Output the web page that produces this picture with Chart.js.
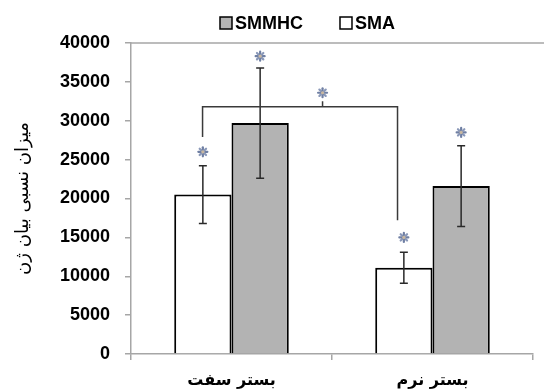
<!DOCTYPE html>
<html>
<head>
<meta charset="utf-8">
<script src="https://cdn.jsdelivr.net/npm/chart.js@4"></script>
<style>
  html, body { margin: 0; padding: 0; background: #fff; }
</style>
</head>
<body>
<canvas id="c" width="544" height="391"></canvas>
<script>
// ====== data ======
const categories = ['بستر سفت', 'بستر نرم'];
const smaValues = [20500, 11100];
const smaErrors = [3700, 2000];
const smmhcValues = [29700, 21600];
const smmhcErrors = [7100, 5200];
const yTicks = [0, 5000, 10000, 15000, 20000, 25000, 30000, 35000, 40000];

// significance marks above the bars
const smaStars = [26000, 15000];
const smmhcStars = [38300, 28500];
// bracket between the SMA bars: [category position, value]
const bracketLine = [[-0.144, 27900], [-0.144, 31800], [0.826, 31800], [0.826, 17200]];
const bracketTick = [[0.453, 31800], [0.453, 32500]];
const bracketStar = [0.453, 33600];

const AXIS = '#a6a6a6';

function drawStar(ctx, cx, cy){
  ctx.save();
  ctx.lineCap = 'round';
  for(let k = 0; k < 8; k++){
    const a = k * Math.PI / 4;
    ctx.strokeStyle = k % 2 ? '#8a98b8' : '#6f7fa3';
    ctx.lineWidth = 2.2;
    ctx.beginPath();
    ctx.moveTo(cx, cy);
    ctx.lineTo(cx + Math.cos(a) * 4.5, cy + Math.sin(a) * 4.5);
    ctx.stroke();
  }
  ctx.fillStyle = '#c9b8a0';
  ctx.beginPath(); ctx.arc(cx, cy, 1.6, 0, Math.PI * 2); ctx.fill();
  ctx.restore();
}

// error bars, stars, bracket, top border, legend
const marks = {
  id: 'marks',
  afterDatasetsDraw(chart){
    const {ctx, scales: {x, y}, chartArea} = chart;
    ctx.save();

    // top border line
    const yTop = y.getPixelForValue(yTicks[yTicks.length - 1]);
    ctx.strokeStyle = AXIS; ctx.lineWidth = 1.5;
    ctx.beginPath(); ctx.moveTo(chartArea.left, yTop); ctx.lineTo(chart.width, yTop); ctx.stroke();

    const sets = [[0, smaValues, smaErrors, smaStars], [1, smmhcValues, smmhcErrors, smmhcStars]];
    sets.forEach(([di, vals, errs, stars]) => {
      chart.getDatasetMeta(di).data.forEach((bar, i) => {
        const xp = bar.x;
        const t = y.getPixelForValue(vals[i] + errs[i]);
        const b = y.getPixelForValue(vals[i] - errs[i]);
        ctx.strokeStyle = '#2a2a2a'; ctx.lineWidth = 1.5;
        ctx.beginPath();
        ctx.moveTo(xp, t); ctx.lineTo(xp, b);
        ctx.moveTo(xp - 4, t); ctx.lineTo(xp + 4, t);
        ctx.moveTo(xp - 4, b); ctx.lineTo(xp + 4, b);
        ctx.stroke();
        drawStar(ctx, xp, y.getPixelForValue(stars[i]));
      });
    });

    // bracket
    ctx.strokeStyle = '#3a3a3a'; ctx.lineWidth = 1.5;
    ctx.beginPath();
    bracketLine.forEach(([cx, v], i) => {
      const px = x.getPixelForValue(cx), py = y.getPixelForValue(v);
      if(i === 0) ctx.moveTo(px, py); else ctx.lineTo(px, py);
    });
    ctx.moveTo(x.getPixelForValue(bracketTick[0][0]), y.getPixelForValue(bracketTick[0][1]));
    ctx.lineTo(x.getPixelForValue(bracketTick[1][0]), y.getPixelForValue(bracketTick[1][1]));
    ctx.stroke();
    drawStar(ctx, x.getPixelForValue(bracketStar[0]), y.getPixelForValue(bracketStar[1]));

    ctx.restore();
  },
  afterDraw(chart){
    // legend, drawn in reverse dataset order
    const {ctx} = chart;
    ctx.save();
    ctx.font = 'bold 18px "Liberation Sans", Arial, sans-serif';
    ctx.textBaseline = 'middle';
    let lx = 220;
    const ly = 23;
    chart.data.datasets.slice().reverse().forEach(ds => {
      ctx.fillStyle = ds.backgroundColor;
      ctx.fillRect(lx, ly - 6, 12, 12);
      ctx.strokeStyle = '#000'; ctx.lineWidth = 1.5;
      ctx.strokeRect(lx, ly - 6, 12, 12);
      ctx.fillStyle = '#000';
      ctx.fillText(ds.label, lx + 15, ly + 1);
      lx += 15 + ctx.measureText(ds.label).width + 37;
    });
    ctx.restore();
  }
};

new Chart(document.getElementById('c'), {
  type: 'bar',
  data: {
    labels: categories,
    datasets: [
      { label: 'SMA', data: smaValues, backgroundColor: '#ffffff', borderColor: '#000', borderWidth: 2 },
      { label: 'SMMHC', data: smmhcValues, backgroundColor: '#b3b3b3', borderColor: '#000', borderWidth: 2 }
    ]
  },
  options: {
    responsive: false,
    animation: false,
    categoryPercentage: 0.57,
    barPercentage: 1.0,
    layout: { padding: { top: 43, right: 11, left: 0, bottom: 0 } },
    plugins: { legend: { display: false }, tooltip: { enabled: false } },
    scales: {
      x: {
        grid: { offset: true, drawOnChartArea: false, color: AXIS, lineWidth: 1.5, tickLength: 6 },
        border: { color: AXIS, width: 1.5 },
        ticks: { color: '#000', padding: 11, font: { family: '"DejaVu Sans", sans-serif', weight: 'bold', size: 16 } },
        afterFit(s){ s.height = 37; }
      },
      y: {
        min: 0, max: 40000,
        afterBuildTicks(s){ s.ticks = yTicks.map(v => ({ value: v })); },
        grid: { drawOnChartArea: false, color: AXIS, lineWidth: 1.5, tickLength: 6 },
        border: { color: AXIS, width: 1.5 },
        ticks: {
          color: '#000', padding: 15,
          font: { family: '"Liberation Sans", Arial, sans-serif', weight: 'bold', size: 18 },
          callback: v => String(v)
        },
        title: {
          display: true,
          text: 'میزان نسبی بیان ژن',
          color: '#000',
          font: { family: '"DejaVu Sans", sans-serif', size: 18 },
          padding: { top: 13, bottom: 0 }
        },
        afterFit(s){ s.width = 131; }
      }
    }
  },
  plugins: [marks]
});
</script>
</body>
</html>
